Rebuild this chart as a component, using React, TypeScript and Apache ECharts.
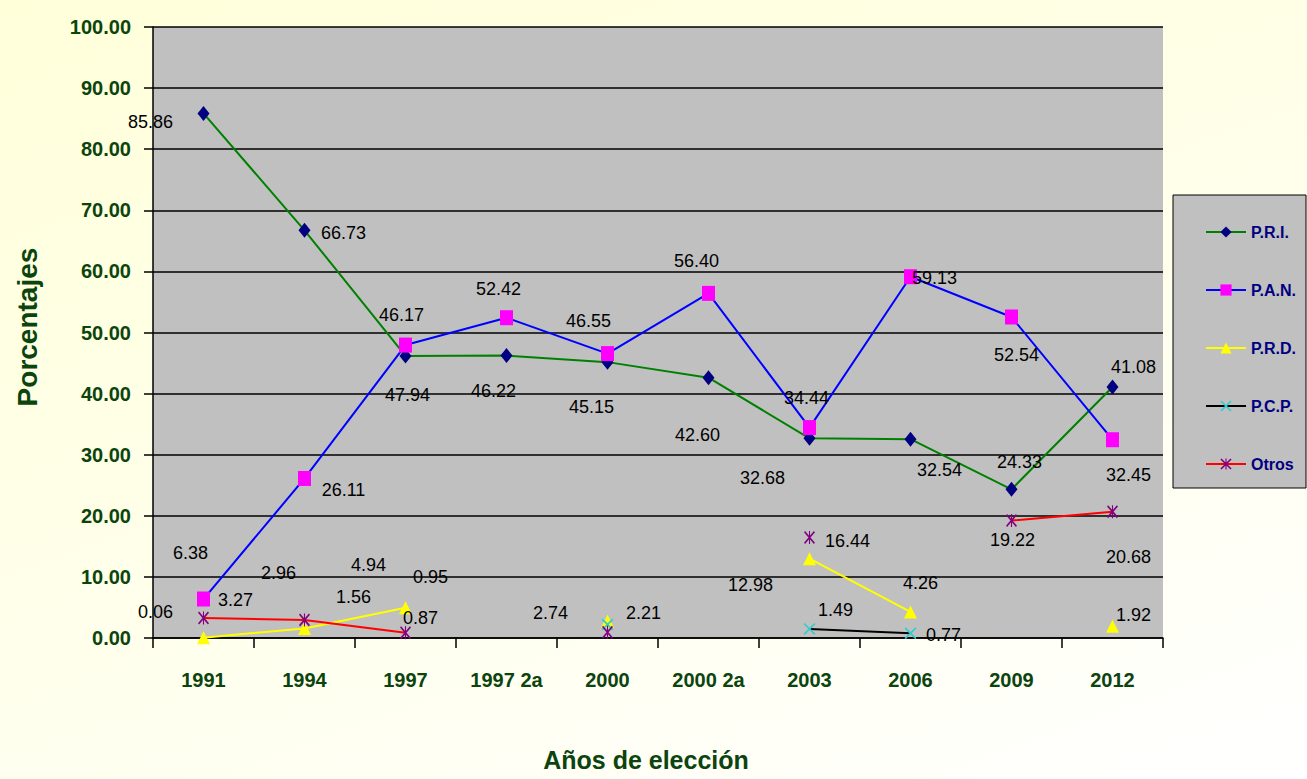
import React, { useEffect, useRef } from "react";
import * as echarts from "echarts";

const categories = ["1991", "1994", "1997", "1997 2a", "2000", "2000 2a", "2003", "2006", "2009", "2012"];
const pri = [85.86, 66.73, 46.17, 46.22, 45.15, 42.6, 32.68, 32.54, 24.33, 41.08];
const pan = [6.38, 26.11, 47.94, 52.42, 46.55, 56.4, 34.44, 59.13, 52.54, 32.45];
const prd = [0.06, 1.56, 4.94, null, 2.74, null, 12.98, 4.26, null, 1.92];
const pcp = [null, null, null, null, 2.21, null, 1.49, 0.77, null, null];
const otros = [3.27, 2.96, 0.87, null, 0.95, null, 16.44, null, 19.22, 20.68];
const yTickValues = [0, 10, 20, 30, 40, 50, 60, 70, 80, 90, 100];

// label offsets (pixels) relative to each point
const priOff = [[-53, 9], [39, 3], [-4, -41], [-13, 35], [-16, 45], [-11, 57], [-47, 40], [29, 31], [8, -27], [21, -20]];
const panOff = [[-13, -46], [39, 12], [2, 50], [-8, -29], [-19, -33], [-12, -32], [-3, -30], [24, 1], [5, 38], [16, 35]];
const prdOff = [[-48, -26], [49, -31], [-37, -43], [0, 0], [-57, -8], [0, 0], [-59, 26], [10, -29], [0, 0], [21, -11]];
const pcpOff = [[0, 0], [0, 0], [0, 0], [0, 0], [36, -11], [0, 0], [26, -19], [33, 2], [0, 0], [0, 0]];
const otrosOff = [[32, -18], [-26, -47], [15, -15], [0, 0], [-177, -55], [0, 0], [38, 3], [0, 0], [1, 19], [16, 45]];

const FONT = "'Liberation Sans Narrow', 'Arial Narrow', 'Liberation Sans', Arial, sans-serif";
const GREEN = "#0B440D";

const X_PATH = "path://M0,2 L2,0 L20,18 L18,20 Z M18,0 L20,2 L2,20 L0,18 Z";
const STAR_PATH = "path://M0,2 L2,0 L20,18 L18,20 Z M18,0 L20,2 L2,20 L0,18 Z M9,0 L11,0 L11,20 L9,20 Z";

function build(values: (number | null)[], offs: number[][]) {
  return values.map((v, i) =>
    v === null
      ? null
      : { value: v, label: { offset: offs[i] } }
  );
}

export default function App() {
  const ref = useRef<HTMLDivElement>(null);
  useEffect(() => {
    document.body.style.margin = "0";
    const chart = echarts.init(ref.current!, undefined, { renderer: "svg" });
    const labelBase = {
      show: true,
      position: "inside",
      align: "center",
      verticalAlign: "middle",
      color: "#000",
      fontFamily: FONT,
      fontSize: 18,
      fontWeight: "normal",
      formatter: (p: any) => Number(p.value).toFixed(2),
    };
    const mk = (name: string, data: any[], lineColor: string, symbol: string, symbolSize: any, symColor: string) => ({
      name,
      type: "line",
      data,
      symbol,
      symbolSize,
      showAllSymbol: true,
      connectNulls: false,
      lineStyle: { color: lineColor, width: 2 },
      itemStyle: { color: symColor },
      label: labelBase,
      emphasis: { disabled: true },
    });
    chart.setOption({
      animation: false,
      grid: {
        left: 153,
        top: 27,
        width: 1010,
        height: 611,
        show: true,
        backgroundColor: "#C0C0C0",
        borderWidth: 0,
      },
      xAxis: {
        type: "category",
        data: categories,
        boundaryGap: true,
        axisLine: { lineStyle: { color: "#000", width: 1.5 } },
        axisTick: { show: true, length: 10, interval: 0, alignWithLabel: false, lineStyle: { color: "#000", width: 1.5 } },
        axisLabel: { interval: 0, color: GREEN, fontFamily: FONT, fontSize: 20, fontWeight: "bold", margin: 32 },
        splitLine: { show: false },
      },
      yAxis: {
        type: "value",
        min: yTickValues[0],
        max: yTickValues[yTickValues.length - 1],
        interval: 10,
        axisLine: { show: true, lineStyle: { color: "#000", width: 1.5 } },
        axisTick: { show: true, length: 9, lineStyle: { color: "#000", width: 1.5 } },
        axisLabel: {
          color: GREEN,
          fontFamily: FONT,
          fontSize: 20,
          fontWeight: "bold",
          margin: 22,
          formatter: (v: number) => v.toFixed(2),
        },
        splitLine: { show: true, lineStyle: { color: "#000", width: 1.5 } },
      },
      legend: {
        orient: "vertical",
        left: 1200,
        top: 218,
        itemWidth: 40,
        itemHeight: 14,
        itemGap: 40,
        textStyle: { color: "#000080", fontFamily: FONT, fontSize: 16, fontWeight: "bold", lineHeight: 18 },
        data: ["P.R.I.", "P.A.N.", "P.R.D.", "P.C.P.", "Otros"],
      },
      graphic: [
        {
          type: "rect",
          z: 0,
          shape: { x: 1173, y: 195, width: 133, height: 293 },
          style: { fill: "#C0C0C0", stroke: "#000", lineWidth: 1 },
        },
        {
          type: "text",
          x: 27,
          y: 327,
          rotation: Math.PI / 2,
          style: {
            text: "Porcentajes",
            fill: GREEN,
            font: `bold 28px ${FONT}`,
            align: "center",
            verticalAlign: "middle",
          },
        },
        {
          type: "text",
          x: 646,
          y: 760,
          style: {
            text: "Años de elección",
            fill: GREEN,
            font: `bold 25px ${FONT}`,
            align: "center",
            verticalAlign: "middle",
          },
        },
      ],
      series: [
        mk("P.R.I.", build(pri, priOff), "#008000", "diamond", [12, 15], "#000080"),
        mk("P.A.N.", build(pan, panOff), "#0000FF", "rect", [13, 15], "#FF00FF"),
        mk("P.R.D.", build(prd, prdOff), "#FFFF00", "triangle", [13, 13], "#FFFF00"),
        mk("P.C.P.", build(pcp, pcpOff), "#000000", X_PATH, [12, 12], "#33CCCC"),
        mk("Otros", build(otros, otrosOff), "#FF0000", STAR_PATH, [11, 13], "#800080"),
      ],
    });
    return () => chart.dispose();
  }, []);
  return (
    <div
      style={{
        width: 1307,
        height: 779,
        background: "linear-gradient(160deg, #FFFFDA 0%, #FFFFEC 55%, #FFFFFF 100%)",
      }}
    >
      <div ref={ref} style={{ width: 1307, height: 779 }} />
    </div>
  );
}
